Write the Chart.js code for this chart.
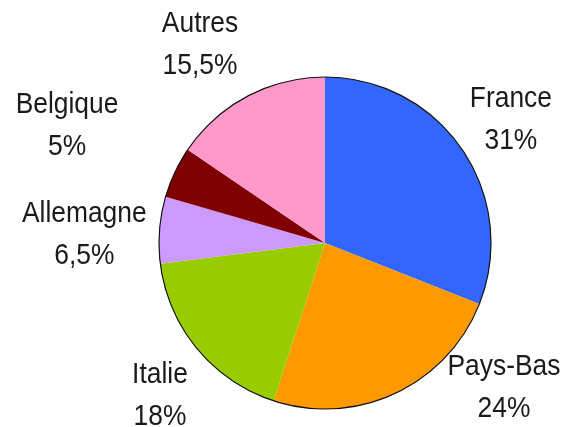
<!DOCTYPE html>
<html>
<head>
<meta charset="utf-8">
<script src="https://cdn.jsdelivr.net/npm/chart.js@4"></script>
<style>
    html, body { margin: 0; padding: 0; background: #fff; }
    canvas { display: block; }
</style>
</head>
<body>
<canvas id="camembert" width="567" height="427"></canvas>
<script>
// Données
const pays = ['France', 'Pays-Bas', 'Italie', 'Allemagne', 'Belgique', 'Autres'];
const parts = [31, 24, 18, 6.5, 5, 15.5];
const couleurs = ['#3366FF', '#FF9900', '#99CC00', '#CC99FF', '#800000', '#FF99CC'];

// Position des étiquettes, en rayons depuis le centre (x du centre du texte, ligne de base de la 1re ligne)
const posEtiquettes = [
    [1.12, -0.82], [1.078, 0.795], [-0.994, 0.843],
    [-1.45, -0.127], [-1.554, -0.783], [-0.753, -1.271]
];

function formatPct(v) {
    return String(v).replace('.', ',') + '%';
}

// Plugin : contour noir + étiquettes
const pluginEtiquettes = {
    id: 'etiquettes',
    afterDatasetsDraw(chart) {
        const ctx = chart.ctx;
        const arcs = chart.getDatasetMeta(0).data;
        if (!arcs.length) return;
        const cx = arcs[0].x, cy = arcs[0].y, r = arcs[0].outerRadius;

        // contour extérieur
        ctx.save();
        ctx.beginPath();
        ctx.arc(cx, cy, r, 0, Math.PI * 2);
        ctx.lineWidth = 1.2;
        ctx.strokeStyle = '#111';
        ctx.stroke();
        ctx.restore();

        // textes
        ctx.save();
        ctx.fillStyle = '#1a1a1a';
        ctx.font = '30px "Liberation Sans", Arial, sans-serif';
        ctx.textAlign = 'center';
        ctx.textBaseline = 'alphabetic';
        pays.forEach((nom, i) => {
            const x = cx + posEtiquettes[i][0] * r;
            const y = cy + posEtiquettes[i][1] * r;
            const lignes = [nom, formatPct(parts[i])];
            lignes.forEach((t, j) => {
                ctx.save();
                ctx.translate(x, y + j * 42);
                ctx.scale(0.88, 1);
                ctx.fillText(t, 0, 0);
                ctx.restore();
            });
        });
        ctx.restore();
    }
};

new Chart(document.getElementById('camembert'), {
    type: 'pie',
    data: {
        labels: pays,
        datasets: [{
            data: parts,
            backgroundColor: couleurs,
            borderWidth: 0
        }]
    },
    options: {
        responsive: false,
        animation: false,
        layout: { padding: { top: 77, bottom: 18, left: 159, right: 76 } },
        plugins: {
            legend: { display: false },
            tooltip: { enabled: false }
        }
    },
    plugins: [pluginEtiquettes]
});
</script>
</body>
</html>
